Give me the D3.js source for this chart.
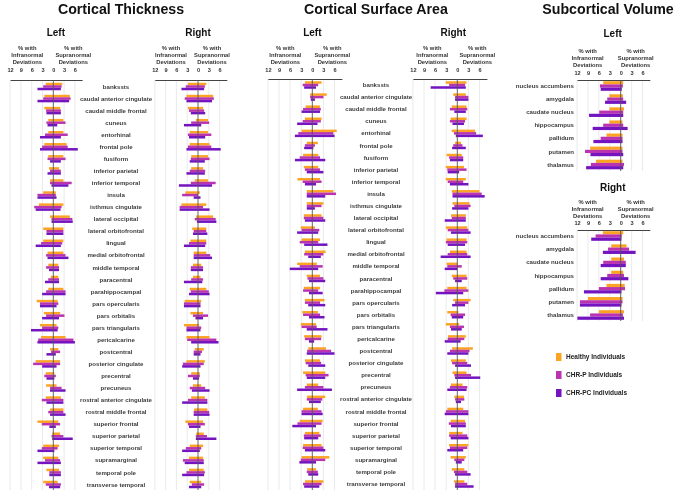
<!DOCTYPE html>
<html>
<head>
<meta charset="utf-8">
<script src="https://cdn.jsdelivr.net/npm/d3@7"></script>
<style>
  body { margin: 0; background: #fff; }
  svg { display: block; font-family: "Liberation Sans", Arial, sans-serif; will-change: transform; }
</style>
</head>
<body>
<svg id="chart" width="681" height="492"></svg>
<script>
var corticalRegions = ["bankssts", "caudal anterior cingulate", "caudal middle frontal", "cuneus", "entorhinal",
  "frontal pole", "fusiform", "inferior parietal", "inferior temporal", "insula", "isthmus cingulate",
  "lateral occipital", "lateral orbitofrontal", "lingual", "medial orbitofrontal", "middle temporal",
  "paracentral", "parahippocampal", "pars opercularis", "pars orbitalis", "pars triangularis",
  "pericalcarine", "postcentral", "posterior cingulate", "precentral", "precuneus",
  "rostral anterior cingulate", "rostral middle frontal", "superior frontal", "superior parietal",
  "superior temporal", "supramarginal", "temporal pole", "transverse temporal"];
var subcorticalRegions = ["nucleus accumbens", "amygdala", "caudate nucleus", "hippocampus", "pallidum", "putamen", "thalamus"];
var groups = ["Healthy Individuals", "CHR-P Individuals", "CHR-PC Individuals"];
var groupColors = ["#FBA322", "#BA33B0", "#7314C0"];
var tickValues = [-12, -9, -6, -3, 0, 3, 6];

// each entry: [% infranormal, % supranormal]
var thickLeftHealthy = [[2.1,2.5],[2.5,4.6],[2.5,1.9],[1.4,2.8],[1.4,2.8],[2.5,3.7],[1.4,2.8],[1.2,1.6],[0.9,2.8],[2.8,0.7],[4.0,2.8],[0.9,4.6],[2.8,2.8],[2.8,2.8],[1.6,2.8],[1.4,1.4],[0.7,1.4],[1.4,2.8],[4.6,1.2],[2.6,1.9],[3.7,0.9],[3.4,3.4],[0.9,1.4],[4.9,1.9],[2.1,0.3],[2.0,0.9],[2.1,2.1],[0.9,2.8],[4.4,1.4],[0.3,1.9],[2.8,1.6],[2.8,1.4],[1.9,1.6],[2.8,1.2]];
var thickLeftCHRP = [[2.8,2.3],[2.8,4.8],[2.0,2.1],[1.9,3.4],[2.3,4.0],[3.1,4.0],[1.6,3.4],[0.9,2.1],[0.9,5.1],[4.4,0.7],[5.3,2.3],[0.5,5.3],[1.9,2.8],[3.4,2.5],[2.0,3.4],[2.0,1.6],[1.4,1.6],[2.0,3.4],[3.7,1.4],[2.0,3.1],[3.1,1.4],[4.2,5.6],[0.6,1.9],[5.6,1.9],[2.5,0.7],[0.9,2.3],[3.2,2.8],[1.4,2.8],[3.2,1.9],[0.5,2.8],[3.2,1.2],[2.3,1.9],[1.1,2.1],[2.1,2.1]];
var thickLeftCHRPC = [[4.4,2.1],[4.4,4.4],[1.9,2.1],[1.6,1.1],[3.7,2.1],[3.7,6.8],[0.9,2.1],[1.6,2.1],[0.5,4.2],[4.4,0.9],[4.9,2.0],[0.5,5.4],[1.9,2.8],[4.9,2.1],[1.6,4.2],[1.2,1.6],[2.3,1.6],[3.1,3.4],[3.7,0.9],[3.1,1.6],[6.2,1.2],[4.4,6.0],[1.9,0.7],[3.1,0.9],[1.9,0.3],[0.9,3.4],[1.9,2.8],[0.9,3.4],[1.1,0.7],[0.3,5.4],[4.4,0.3],[4.4,2.1],[1.1,2.1],[1.2,1.9]];
var thickRightHealthy = [[2.8,2.3],[3.2,4.2],[2.8,1.4],[0.6,2.8],[2.3,2.8],[2.3,3.2],[1.9,2.8],[1.9,1.4],[0.9,2.8],[3.5,0.5],[4.6,2.3],[0.5,4.2],[1.6,2.3],[2.1,2.3],[1.2,2.3],[1.4,0.9],[1.4,0.7],[2.3,2.3],[3.7,0.9],[2.1,1.4],[3.9,0.3],[3.2,3.2],[0.9,1.6],[3.2,1.9],[1.9,0.5],[1.4,0.9],[1.9,1.9],[1.1,2.6],[3.5,1.4],[0.5,1.6],[2.3,1.4],[2.5,1.4],[2.5,1.6],[2.3,0.9]];
var thickRightCHRP = [[3.4,1.9],[3.7,4.4],[2.5,1.7],[1.9,3.1],[2.8,3.7],[2.8,3.7],[2.0,3.2],[2.3,2.0],[2.0,4.9],[4.4,0.0],[5.1,1.4],[0.9,4.9],[1.2,2.3],[2.5,2.3],[1.2,3.4],[2.0,1.4],[1.9,1.4],[2.0,3.0],[3.9,0.7],[1.4,2.8],[3.2,0.9],[3.0,5.1],[1.2,1.1],[4.2,1.6],[2.8,0.5],[2.3,2.0],[2.8,2.6],[1.2,3.1],[2.8,1.9],[0.6,2.5],[3.4,0.9],[4.2,1.6],[3.2,1.9],[1.7,1.7]];
var thickRightCHRPC = [[4.6,1.7],[3.2,3.9],[2.0,2.0],[3.9,0.9],[2.5,2.0],[3.2,6.3],[2.3,1.9],[3.2,1.9],[5.3,3.9],[1.2,0.7],[5.1,3.2],[0.3,5.1],[1.4,2.6],[3.9,2.0],[1.2,3.9],[2.0,1.4],[3.9,1.2],[2.5,3.2],[3.9,0.7],[0.7,1.4],[3.2,0.7],[1.9,5.7],[1.2,0.7],[4.4,0.7],[1.4,0.3],[1.7,3.2],[4.4,2.6],[1.2,3.2],[2.5,0.7],[0.6,5.1],[4.4,0.5],[3.7,1.6],[4.4,1.7],[2.5,0.9]];
var areaLeftHealthy = [[2.0,2.5],[0.6,3.9],[1.8,2.1],[2.0,2.5],[2.9,6.6],[1.5,1.5],[2.5,1.6],[2.3,1.6],[4.0,2.1],[1.5,5.7],[1.5,3.0],[2.3,2.5],[3.1,0.7],[2.9,2.1],[2.0,3.6],[4.1,1.2],[1.5,2.1],[2.3,2.1],[2.0,3.3],[2.7,1.5],[3.1,1.0],[2.2,2.5],[1.1,3.7],[2.0,2.1],[2.5,3.5],[1.5,1.6],[1.4,3.5],[2.5,1.5],[3.4,2.8],[2.0,1.9],[2.5,2.5],[2.9,4.6],[1.4,1.0],[2.0,3.0]];
var areaLeftCHRP = [[2.6,1.6],[0.6,3.0],[2.5,2.3],[2.6,2.3],[3.8,5.7],[2.0,0.7],[3.4,2.1],[2.0,2.1],[2.6,2.5],[1.5,6.4],[1.5,2.5],[2.3,3.0],[2.9,1.9],[3.4,1.6],[2.2,3.0],[3.4,2.8],[1.3,3.0],[2.5,1.6],[2.0,2.1],[2.5,2.1],[2.9,1.2],[2.0,2.4],[1.4,5.1],[1.8,2.4],[1.8,4.4],[2.0,3.0],[1.5,2.7],[2.9,2.5],[4.0,2.5],[2.3,2.3],[2.6,3.0],[3.1,3.5],[1.5,1.5],[2.5,2.5]];
var areaLeftCHRPC = [[2.2,1.0],[0.4,0.7],[2.9,2.1],[4.1,1.4],[4.7,6.0],[2.2,0.3],[4.7,3.5],[1.5,3.0],[2.0,1.0],[1.5,3.5],[1.5,0.7],[2.0,3.5],[4.1,1.6],[2.2,4.1],[1.1,2.3],[6.1,1.6],[0.9,3.5],[0.9,2.8],[1.1,3.5],[0.9,3.3],[1.5,4.1],[0.9,0.5],[1.5,6.0],[1.1,3.5],[1.5,3.5],[4.1,5.3],[0.9,2.3],[2.9,2.8],[5.4,1.0],[2.2,1.6],[2.0,3.5],[3.5,1.0],[1.1,1.6],[2.2,1.9]];
var areaRightHealthy = [[3.1,2.5],[1.1,2.3],[1.5,2.5],[1.8,2.5],[1.5,4.8],[0.6,1.0],[2.9,1.2],[3.1,1.8],[3.1,2.3],[1.5,6.0],[1.3,3.3],[1.7,2.3],[3.1,2.7],[2.9,2.5],[2.0,2.5],[2.9,0.1],[1.5,2.5],[2.7,2.5],[1.1,3.6],[2.7,0.3],[3.1,0.5],[2.5,2.3],[1.4,4.2],[1.7,2.3],[1.3,2.5],[1.7,1.4],[0.8,1.8],[2.7,1.6],[1.8,2.1],[2.2,1.4],[2.2,3.0],[1.8,2.3],[1.5,1.9],[0.9,1.9]];
var areaRightCHRP = [[2.2,2.1],[0.6,3.0],[2.0,2.7],[2.0,2.1],[0.9,5.1],[1.1,1.4],[2.2,1.6],[2.7,2.5],[2.6,1.6],[1.3,6.6],[0.8,3.6],[1.5,2.3],[2.6,3.0],[3.1,2.7],[2.6,2.7],[2.7,1.2],[1.1,2.7],[3.5,3.0],[0.6,3.0],[1.8,2.1],[2.0,1.8],[2.6,1.9],[2.0,3.3],[1.4,2.7],[0.8,3.7],[2.0,2.7],[0.6,1.9],[3.1,3.0],[2.3,2.3],[2.2,2.7],[2.0,2.7],[0.8,1.9],[0.9,2.7],[0.6,2.7]];
var areaRightCHRPC = [[7.2,2.3],[0.6,3.0],[0.8,2.3],[1.3,1.8],[0.4,6.9],[1.4,2.3],[2.0,1.6],[2.6,0.5],[2.0,3.0],[1.3,7.4],[1.4,3.0],[3.4,2.3],[1.7,3.6],[2.6,2.1],[4.5,3.6],[3.4,0.0],[0.6,1.2],[5.8,1.6],[1.4,2.1],[1.5,1.6],[1.7,1.2],[3.4,0.9],[2.7,3.0],[0.6,3.7],[0.6,6.2],[2.7,2.5],[0.4,1.0],[3.4,3.0],[1.7,2.3],[1.8,3.0],[2.7,1.6],[0.4,1.2],[0.6,3.6],[0.6,4.4]];
var subLeftHealthy = [[4.8,0.7],[3.1,0.6],[3.1,0.9],[3.1,0.5],[3.9,0.5],[8.4,0.5],[6.8,0.5]];
var subLeftCHRP = [[5.7,0.6],[3.7,0.7],[5.9,0.7],[4.8,0.7],[5.5,0.5],[9.8,0.5],[8.2,0.9]];
var subLeftCHRPC = [[5.5,0.3],[4.3,1.5],[8.7,0.7],[7.7,1.9],[7.5,0.5],[8.3,0.7],[9.5,0.7]];
var subRightHealthy = [[4.9,0.7],[2.6,1.6],[2.6,0.9],[2.6,0.7],[3.9,1.1],[9.0,0.5],[6.0,0.9]];
var subRightCHRP = [[6.9,0.3],[3.5,2.3],[4.8,1.4],[3.7,0.9],[6.0,1.2],[11.2,0.5],[8.4,0.6]];
var subRightCHRPC = [[8.1,0.2],[4.9,4.1],[5.5,1.4],[5.5,2.1],[10.1,0.2],[11.2,0.2],[11.9,0.9]];

var svg = d3.select("#chart");
var textCol = "#333";

function sectionTitle(x, txt) {
  svg.append("text").attr("x", x).attr("y", 13.5).attr("text-anchor", "middle")
    .attr("font-size", 14.2).attr("font-weight", "bold").attr("fill", "#111").text(txt);
}

// one hemisphere panel: axis, headers, grid and the three bars per region
function drawPanel(p) {
  var x = d3.scaleLinear().domain([-12, 8]).range([p.zero - 12 * p.k, p.zero + 8 * p.k]);
  var y = d3.scalePoint().domain(p.regions).range([p.yFirst, p.yLast]);
  var band = d3.scaleBand().domain([0, 1, 2]).range([-p.bh * 1.5, p.bh * 1.5]);
  var g = svg.append("g");

  g.append("text").attr("x", p.zero + p.titleDx).attr("y", p.titleY).attr("text-anchor", "middle")
    .attr("font-size", 10).attr("font-weight", "bold").attr("fill", "#111").text(p.side);

  [["% with", "Infranormal", "Deviations", p.infraX], ["% with", "Supranormal", "Deviations", p.supraX]].forEach(function(h) {
    var t = g.append("text").attr("text-anchor", "middle").attr("font-size", 5.8)
      .attr("font-weight", "bold").attr("fill", textCol);
    [0, 1, 2].forEach(function(i) {
      t.append("tspan").attr("x", p.zero + h[3]).attr("y", p.headY + i * 7).text(h[i]);
    });
  });

  g.append("g").selectAll("line").data(tickValues.filter(function(v) { return v !== 0; }))
    .join("line").attr("x1", x).attr("x2", x).attr("y1", p.axisY).attr("y2", p.gridEnd)
    .attr("stroke", "#e4e4e4").attr("stroke-width", 0.8);

  var axis = d3.axisTop(x).tickValues(tickValues).tickSize(0).tickPadding(0)
    .tickFormat(function(v) { return Math.abs(v); });
  var ag = g.append("g").attr("transform", "translate(0," + p.axisY + ")").call(axis);
  ag.select(".domain").attr("stroke", "#444").attr("stroke-width", 1.2);
  ag.selectAll("text").attr("y", p.tickY - p.axisY).attr("font-size", 5.6).attr("font-weight", "bold")
    .attr("fill", textCol).attr("font-family", "Liberation Sans, Arial, sans-serif");

  p.series.forEach(function(s, gi) {
    g.append("g").selectAll("rect").data(s).join("rect")
      .attr("x", function(d) { return x(-d[0]); })
      .attr("width", function(d) { return Math.max(0, x(d[1]) - x(-d[0])); })
      .attr("y", function(d, i) { return y(p.regions[i]) + band(gi); })
      .attr("height", band.bandwidth())
      .attr("fill", groupColors[gi]);
  });

  g.append("line").attr("x1", x(0)).attr("x2", x(0)).attr("y1", p.axisY).attr("y2", p.gridEnd)
    .attr("stroke", "#555").attr("stroke-width", 0.9);

  if (p.labelX != null) {
    g.append("g").selectAll("text").data(p.regions).join("text")
      .attr("x", p.labelX).attr("y", function(d) { return y(d) + 2.1; })
      .attr("text-anchor", p.labelAnchor).attr("font-size", 6.1).attr("font-weight", "bold")
      .attr("fill", "#3c3c3c").text(function(d) { return d; });
  }
}

sectionTitle(121, "Cortical Thickness");
sectionTitle(376, "Cortical Surface Area");
sectionTitle(608, "Subcortical Volume");

var cortical = { regions: corticalRegions, k: 3.6, bh: 2.5, titleY: 36, headY: 49.5, tickY: 72, axisY: 80,
  gridEnd: 490, yFirst: 86.5, yLast: 484.5 };

drawPanel(Object.assign({}, cortical, { side: "Left", zero: 53.3, titleDx: 2.5, infraX: -26, supraX: 20,
  series: [thickLeftHealthy, thickLeftCHRP, thickLeftCHRPC], labelX: 116, labelAnchor: "middle" }));
drawPanel(Object.assign({}, cortical, { side: "Right", zero: 198, titleDx: 0, infraX: -27, supraX: 14,
  series: [thickRightHealthy, thickRightCHRP, thickRightCHRPC] }));
drawPanel(Object.assign({}, cortical, { side: "Left", zero: 312.3, titleDx: 0, k: 3.7, infraX: -27, supraX: 20, axisY: 79,
  yFirst: 85, yLast: 484, series: [areaLeftHealthy, areaLeftCHRP, areaLeftCHRPC], labelX: 376, labelAnchor: "middle" }));
drawPanel(Object.assign({}, cortical, { side: "Right", zero: 457.3, titleDx: -4, k: 3.7, infraX: -25, supraX: 20, axisY: 79,
  yFirst: 85, yLast: 484, series: [areaRightHealthy, areaRightCHRP, areaRightCHRPC] }));

var sub = { regions: subcorticalRegions, k: 3.64, zero: 620.7, titleDx: -8, bh: 3.2, infraX: -33, supraX: 15,
  labelX: 574, labelAnchor: "end" };
drawPanel(Object.assign({}, sub, { side: "Left", titleY: 37, headY: 53, tickY: 75, axisY: 80,
  gridEnd: 171, yFirst: 86, yLast: 164.5, series: [subLeftHealthy, subLeftCHRP, subLeftCHRPC] }));
drawPanel(Object.assign({}, sub, { side: "Right", titleY: 191, headY: 204, tickY: 225, axisY: 230,
  gridEnd: 321, yFirst: 236, yLast: 315, series: [subRightHealthy, subRightCHRP, subRightCHRPC] }));

var legend = svg.append("g").selectAll("g").data(groups).join("g")
  .attr("transform", function(d, i) { return "translate(556," + (357 + i * 18) + ")"; });
legend.append("rect").attr("x", 0).attr("y", -4).attr("width", 5.5).attr("height", 8)
  .attr("fill", function(d, i) { return groupColors[i]; });
legend.append("text").attr("x", 10).attr("y", 2.3).attr("font-size", 6.5).attr("font-weight", "bold")
  .attr("fill", "#222").text(function(d) { return d; });
</script>
</body>
</html>
